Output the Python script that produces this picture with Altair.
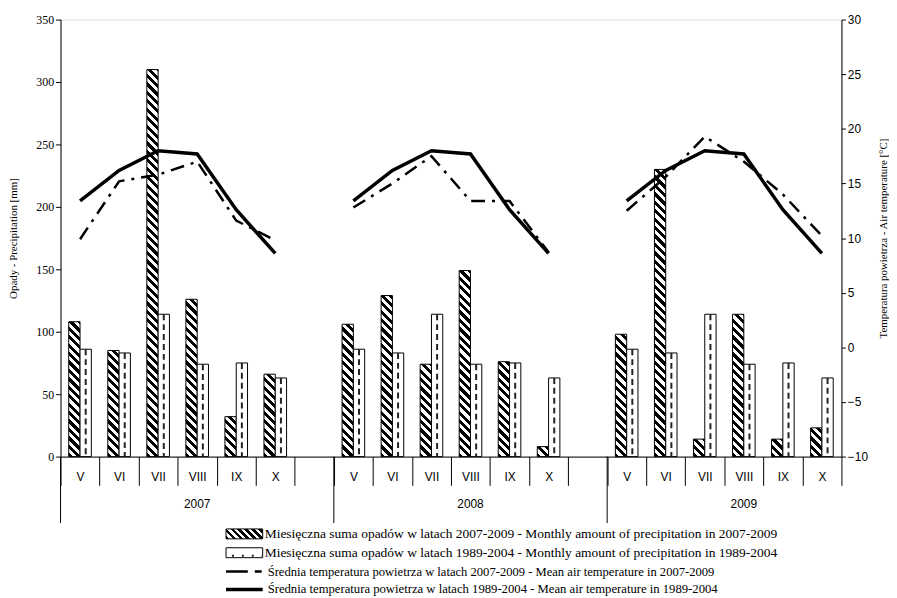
import altair as alt

# ---------------- data ----------------
years = ["2007", "2008", "2009"]
months = ["V", "VI", "VII", "VIII", "IX", "X"]

precip_2007 = [108, 85, 310, 126, 32, 66]
precip_2008 = [106, 129, 74, 149, 76, 8]
precip_2009 = [98, 230, 14, 114, 14, 23]
precip_longterm = [86, 83, 114, 74, 75, 63]

temp_2007 = [9.9, 15.2, 15.8, 17.0, 11.6, 9.8]
temp_2008 = [12.8, 15.0, 17.5, 13.4, 13.4, 8.7]
temp_2009 = [12.5, 15.6, 19.3, 17.0, 14.0, 10.2]
temp_longterm = [13.4, 16.2, 18.0, 17.7, 12.6, 8.6]

legend_labels = [
    "Miesięczna suma opadów w latach 2007-2009 - Monthly amount of precipitation in 2007-2009",
    "Miesięczna suma opadów w latach 1989-2004 - Monthly amount of precipitation in 1989-2004",
    "Średnia temperatura powietrza w latach 2007-2009 - Mean air temperature in 2007-2009",
    "Średnia temperatura powietrza w latach 1989-2004 -  Mean air temperature in 1989-2004",
]

precip_actual = {"2007": precip_2007, "2008": precip_2008, "2009": precip_2009}
temp_actual = {"2007": temp_2007, "2008": temp_2008, "2009": temp_2009}

# ---------------- layout constants ----------------
W, H = 788, 441
P_MAX = 350
BAR_W = 11.4
SERIF = "Liberation Serif"
SANS = "Liberation Sans"


def hatch(w, h, period=8.5, frac=0.5):
    """Diagonal '\\' stripes as a hard-stop linear gradient (bbox units)."""
    k = (w + h) / (w * w + h * h)
    n = (w + h) / period
    stops = []
    i = 0
    while i / n < 1:
        a = i / n
        b = min((i + frac) / n, 1)
        c = min((i + 1) / n, 1)
        stops += [{"offset": a, "color": "black"}, {"offset": b, "color": "black"},
                  {"offset": b, "color": "white"}, {"offset": c, "color": "white"}]
        i += 1
    return {"gradient": "linear", "x1": 0, "y1": 1, "x2": k * w, "y2": 1 - k * h,
            "stops": stops}


domain = []
for y in years:
    for m in months:
        domain.append(f"{y}|{m}")
    if y != years[-1]:
        domain.append(f"{y}|")

rows = []
for y in years:
    for i, m in enumerate(months):
        pa = precip_actual[y][i]
        rows.append({
            "cat": f"{y}|{m}", "year": y, "month": m,
            "p_act": pa, "p_lt": precip_longterm[i],
            "t_act": temp_actual[y][i], "t_lt": temp_longterm[i],
            "grad": hatch(BAR_W, pa * H / P_MAX),
        })
data = alt.Data(values=rows)
year_rows = [{"year": y, "cat": f"{y}|V", "mid": f"{y}|VIII"} for y in years]
ydata = alt.Data(values=year_rows)

xscale = alt.Scale(domain=domain, paddingInner=0, paddingOuter=0)
xaxis = alt.Axis(title=None, tickBand="extent", tickSize=29, tickColor="black",
                 domainColor="black", labelExpr="slice(datum.label, 5)",
                 labelFont=SANS, labelFontSize=12, labelColor="black",
                 labelPadding=-9, labelBaseline="middle", labelAngle=0,
                 labelOverlap=False, labelFlush=False, grid=False)
X = alt.X("cat:N", scale=xscale, axis=xaxis, sort=domain)

pscale = alt.Scale(domain=[0, P_MAX], nice=False, zero=True)
tscale = alt.Scale(domain=[-10, 30], nice=False, zero=False)

left_axis = alt.Axis(title="Opady - Precipitation [mm]", orient="left",
                     values=list(range(0, 351, 50)), tickSize=5, tickColor="black",
                     domainColor="black", labelFont=SERIF, labelFontSize=12,
                     labelColor="black", labelPadding=2, grid=False,
                     titleFont=SERIF, titleFontSize=11, titleFontWeight="normal",
                     titleColor="black", titleAngle=270, titleBaseline="middle",
                     titleAlign="center", titleX=-47, titleY=H / 2)
right_axis = alt.Axis(title="Temperatura powietrza - Air temperature [°C]", orient="right",
                      values=list(range(-10, 31, 5)), tickSize=4, tickColor="black",
                      domainColor="black", labelFont=SANS, labelFontSize=12,
                      labelColor="black", labelPadding=2, grid=False,
                      titleFont=SERIF, titleFontSize=11, titleFontWeight="normal",
                      titleColor="black", titleAngle=270, titleBaseline="middle",
                      titleAlign="center", titleX=42, titleY=H / 2)

base = alt.Chart(data)

hatched = base.mark_bar(width=BAR_W, xOffset=-BAR_W / 2, stroke="black", strokeWidth=1).encode(
    x=X, y=alt.Y("p_act:Q", scale=pscale, axis=left_axis),
    fill=alt.Fill("grad:N", scale=None, legend=None),
)
dotted = base.mark_bar(width=BAR_W, xOffset=BAR_W / 2, fill="white", stroke="black",
                       strokeWidth=1).encode(
    x=X, y=alt.Y("p_lt:Q", scale=pscale, axis=None),
)
dotted_inner = base.mark_rule(xOffset=BAR_W / 2, color="#222", strokeWidth=2,
                              strokeDash=[6, 4]).encode(
    x=X, y=alt.Y("p_lt:Q", scale=pscale, axis=None), y2=alt.datum(0),
)

line_lt = base.mark_line(color="black", strokeWidth=3.5, strokeJoin="miter").encode(
    x=X, y=alt.Y("t_lt:Q", scale=tscale, axis=right_axis), detail="year:N",
)
line_act = base.mark_line(color="black", strokeWidth=2.5, strokeDash=[14, 7, 3, 7]).encode(
    x=X, y=alt.Y("t_act:Q", scale=tscale, axis=None), detail="year:N",
)

year_sep = alt.Chart(ydata).mark_rule(color="black", strokeWidth=1).encode(
    x=alt.X("cat:N", scale=xscale, axis=xaxis, sort=domain, bandPosition=0),
    y=alt.value(H), y2=alt.value(H + 67),
)
year_text = alt.Chart(ydata).mark_text(font=SANS, fontSize=12, color="black",
                                       baseline="middle", dx=0).encode(
    x=alt.X("mid:N", scale=xscale, axis=xaxis, sort=domain, title=None),
    y=alt.value(H + 48), text="year:N",
)

# ---------------- legend ----------------
LX0, LX1, LT = 167, 204, 206
ly = [519, 538, 557, 575]
fs = [13.6, 13.6, 12.7, 12.8]
one = alt.Data(values=[{"a": 0}])
leg = []
leg.append(alt.Chart(one).mark_rect(stroke="black", strokeWidth=1,
                                    fill=hatch(LX1 - LX0, 10, period=7)).encode(
    x=alt.value(LX0), x2=alt.value(LX1), y=alt.value(ly[0] - 5), y2=alt.value(ly[0] + 5)))
leg.append(alt.Chart(one).mark_rect(stroke="black", strokeWidth=1, fill="white").encode(
    x=alt.value(LX0), x2=alt.value(LX1), y=alt.value(ly[1] - 5), y2=alt.value(ly[1] + 5)))
leg.append(alt.Chart(one).mark_rule(color="#222", strokeWidth=2, strokeDash=[2, 8]).encode(
    x=alt.value(LX0 + 6), x2=alt.value(LX1), y=alt.value(ly[1] + 3)))
leg.append(alt.Chart(one).mark_rule(color="black", strokeWidth=2.5,
                                    strokeDash=[22, 7, 7, 7]).encode(
    x=alt.value(LX0), x2=alt.value(LX1), y=alt.value(ly[2])))
leg.append(alt.Chart(one).mark_rule(color="black", strokeWidth=3.5).encode(
    x=alt.value(LX0), x2=alt.value(LX1), y=alt.value(ly[3])))
for i, lab in enumerate(legend_labels):
    leg.append(alt.Chart(alt.Data(values=[{"t": lab}])).mark_text(
        align="left", baseline="middle", font=SERIF, fontSize=fs[i], color="black").encode(
        x=alt.value(LT + (3 if i >= 2 else 0)), y=alt.value(ly[i]), text="t:N"))

chart = alt.layer(
    hatched, dotted, dotted_inner, line_lt, line_act, year_sep, year_text, *leg
).resolve_scale(y="independent").properties(
    width=W, height=H,
    autosize=alt.AutoSizeParams(type="none"),
    padding={"left": 53, "top": 9, "right": 48, "bottom": 140},
).configure_view(stroke="black", strokeWidth=1).configure(background="white")

chart.save("out.html", embed_options={"renderer": "svg", "actions": False})
